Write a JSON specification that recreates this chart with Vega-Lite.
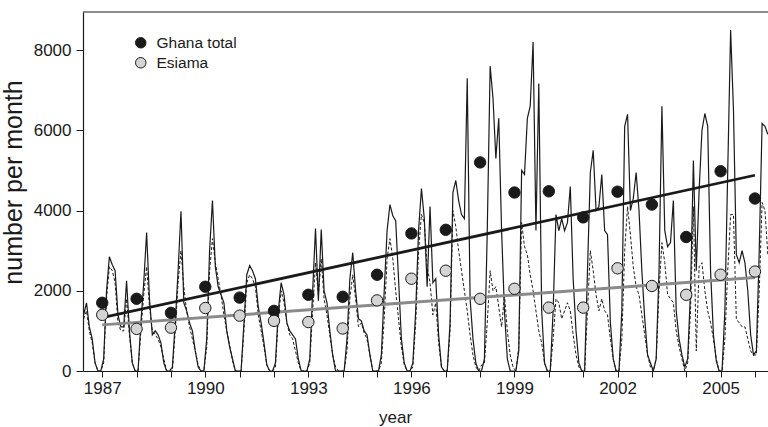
{
  "$schema": "https://vega.github.io/schema/vega-lite/v6.json",
  "width": 685,
  "height": 359,
  "autosize": {"type": "none"},
  "padding": {"left": 83, "top": 12, "right": 0, "bottom": 56},
  "background": "white",
  "config": {
    "font": "Liberation Sans",
    "view": {"stroke": null},
    "axis": {
      "grid": false,
      "domainColor": "#1a1a1a",
      "domainWidth": 1.2,
      "tickColor": "#1a1a1a",
      "tickWidth": 1,
      "tickSize": 6,
      "labelFontSize": 17,
      "labelColor": "#1a1a1a",
      "titleFontSize": 17,
      "titleFontWeight": "normal",
      "titleColor": "#1a1a1a",
      "labelPadding": 3
    },
    "axisX": {"titlePadding": 13, "titleX": 312},
    "axisY": {"titlePadding": 7, "tickSize": 7, "labelPadding": 5, "titleFontSize": 25, "titleY": 170}
  },
  "datasets": {
    "monthly": [
      {"t":1986.458,"g":1400,"e":1300},{"t":1986.542,"g":1700,"e":1500},{"t":1986.625,"g":1100,"e":1000},{"t":1986.708,"g":800,"e":700},{"t":1986.792,"g":200,"e":200},{"t":1986.875,"g":0,"e":0},{"t":1986.958,"g":0,"e":0},
      {"t":1987.042,"g":300,"e":200},{"t":1987.125,"g":2000,"e":1800},{"t":1987.208,"g":2850,"e":2600},{"t":1987.292,"g":2650,"e":2500},{"t":1987.375,"g":2500,"e":2200},{"t":1987.458,"g":1400,"e":1200},{"t":1987.542,"g":1100,"e":1000},{"t":1987.625,"g":1100,"e":1000},{"t":1987.708,"g":2250,"e":1800},{"t":1987.792,"g":1000,"e":900},{"t":1987.875,"g":200,"e":200},{"t":1987.958,"g":0,"e":0},
      {"t":1988.042,"g":0,"e":0},{"t":1988.125,"g":1200,"e":1000},{"t":1988.208,"g":2200,"e":1900},{"t":1988.292,"g":3450,"e":2600},{"t":1988.375,"g":1800,"e":1600},{"t":1988.458,"g":900,"e":1000},{"t":1988.542,"g":1000,"e":900},{"t":1988.625,"g":900,"e":800},{"t":1988.708,"g":700,"e":600},{"t":1988.792,"g":200,"e":300},{"t":1988.875,"g":0,"e":0},{"t":1988.958,"g":0,"e":0},
      {"t":1989.042,"g":100,"e":0},{"t":1989.125,"g":1200,"e":1000},{"t":1989.208,"g":2500,"e":2200},{"t":1989.292,"g":3980,"e":3000},{"t":1989.375,"g":1700,"e":2100},{"t":1989.458,"g":1500,"e":1500},{"t":1989.542,"g":1200,"e":1100},{"t":1989.625,"g":1000,"e":800},{"t":1989.708,"g":500,"e":500},{"t":1989.792,"g":100,"e":150},{"t":1989.875,"g":0,"e":0},{"t":1989.958,"g":0,"e":0},
      {"t":1990.042,"g":800,"e":600},{"t":1990.125,"g":3000,"e":2500},{"t":1990.208,"g":4250,"e":3300},{"t":1990.292,"g":2600,"e":2700},{"t":1990.375,"g":2100,"e":2300},{"t":1990.458,"g":1900,"e":1900},{"t":1990.542,"g":1700,"e":1400},{"t":1990.625,"g":1000,"e":1000},{"t":1990.708,"g":600,"e":650},{"t":1990.792,"g":300,"e":250},{"t":1990.875,"g":0,"e":0},{"t":1990.958,"g":0,"e":0},
      {"t":1991.042,"g":0,"e":0},{"t":1991.125,"g":1200,"e":1000},{"t":1991.208,"g":2400,"e":2200},{"t":1991.292,"g":2630,"e":2400},{"t":1991.375,"g":2500,"e":2300},{"t":1991.458,"g":2300,"e":2100},{"t":1991.542,"g":1600,"e":1400},{"t":1991.625,"g":1200,"e":1000},{"t":1991.708,"g":700,"e":600},{"t":1991.792,"g":150,"e":150},{"t":1991.875,"g":0,"e":0},{"t":1991.958,"g":0,"e":0},
      {"t":1992.042,"g":200,"e":100},{"t":1992.125,"g":1500,"e":1300},{"t":1992.208,"g":2200,"e":2000},{"t":1992.292,"g":1900,"e":1700},{"t":1992.375,"g":1200,"e":1200},{"t":1992.458,"g":1000,"e":900},{"t":1992.542,"g":900,"e":800},{"t":1992.625,"g":800,"e":500},{"t":1992.708,"g":300,"e":200},{"t":1992.792,"g":0,"e":0},{"t":1992.875,"g":0,"e":0},{"t":1992.958,"g":0,"e":0},
      {"t":1993.042,"g":300,"e":200},{"t":1993.125,"g":2000,"e":1500},{"t":1993.208,"g":3550,"e":2700},{"t":1993.292,"g":1750,"e":1900},{"t":1993.375,"g":3530,"e":2800},{"t":1993.458,"g":2000,"e":1800},{"t":1993.542,"g":1700,"e":1400},{"t":1993.625,"g":1000,"e":900},{"t":1993.708,"g":400,"e":400},{"t":1993.792,"g":0,"e":100},{"t":1993.875,"g":0,"e":0},{"t":1993.958,"g":0,"e":0},
      {"t":1994.042,"g":0,"e":0},{"t":1994.125,"g":800,"e":500},{"t":1994.208,"g":2300,"e":1800},{"t":1994.292,"g":2950,"e":2400},{"t":1994.375,"g":2000,"e":1800},{"t":1994.458,"g":1300,"e":1100},{"t":1994.542,"g":1250,"e":1200},{"t":1994.625,"g":1000,"e":950},{"t":1994.708,"g":900,"e":800},{"t":1994.792,"g":400,"e":400},{"t":1994.875,"g":0,"e":0},{"t":1994.958,"g":0,"e":0},
      {"t":1995.042,"g":0,"e":0},{"t":1995.125,"g":400,"e":200},{"t":1995.208,"g":2000,"e":1300},{"t":1995.292,"g":3500,"e":2800},{"t":1995.375,"g":4150,"e":3300},{"t":1995.458,"g":3870,"e":2800},{"t":1995.542,"g":3750,"e":2000},{"t":1995.625,"g":2300,"e":1300},{"t":1995.708,"g":800,"e":600},{"t":1995.792,"g":200,"e":150},{"t":1995.875,"g":0,"e":0},{"t":1995.958,"g":0,"e":0},
      {"t":1996.042,"g":200,"e":100},{"t":1996.125,"g":1500,"e":1200},{"t":1996.208,"g":3500,"e":3000},{"t":1996.292,"g":4550,"e":3900},{"t":1996.375,"g":3800,"e":3700},{"t":1996.458,"g":2100,"e":2600},{"t":1996.542,"g":4100,"e":2200},{"t":1996.625,"g":2200,"e":1400},{"t":1996.708,"g":2300,"e":1700},{"t":1996.792,"g":900,"e":700},{"t":1996.875,"g":100,"e":100},{"t":1996.958,"g":0,"e":0},
      {"t":1997.042,"g":0,"e":0},{"t":1997.125,"g":1200,"e":1000},{"t":1997.208,"g":4450,"e":4000},{"t":1997.292,"g":4750,"e":3600},{"t":1997.375,"g":4250,"e":3000},{"t":1997.458,"g":3900,"e":2500},{"t":1997.542,"g":3800,"e":2000},{"t":1997.625,"g":7300,"e":1500},{"t":1997.708,"g":1800,"e":900},{"t":1997.792,"g":800,"e":400},{"t":1997.875,"g":200,"e":100},{"t":1997.958,"g":0,"e":0},
      {"t":1998.042,"g":0,"e":150},{"t":1998.125,"g":300,"e":200},{"t":1998.208,"g":3500,"e":1200},{"t":1998.292,"g":7600,"e":2500},{"t":1998.375,"g":6800,"e":2000},{"t":1998.458,"g":5300,"e":2100},{"t":1998.542,"g":6300,"e":1600},{"t":1998.625,"g":3500,"e":1100},{"t":1998.708,"g":1500,"e":1900},{"t":1998.792,"g":300,"e":1000},{"t":1998.875,"g":0,"e":400},{"t":1998.958,"g":0,"e":100},
      {"t":1999.042,"g":0,"e":0},{"t":1999.125,"g":500,"e":600},{"t":1999.208,"g":5000,"e":3700},{"t":1999.292,"g":4900,"e":3100},{"t":1999.375,"g":6300,"e":2900},{"t":1999.458,"g":6600,"e":2400},{"t":1999.542,"g":8200,"e":2000},{"t":1999.625,"g":3500,"e":1500},{"t":1999.708,"g":7170,"e":1000},{"t":1999.792,"g":1500,"e":700},{"t":1999.875,"g":200,"e":200},{"t":1999.958,"g":0,"e":0},
      {"t":2000.042,"g":0,"e":0},{"t":2000.125,"g":1500,"e":800},{"t":2000.208,"g":3900,"e":1800},{"t":2000.292,"g":3500,"e":1700},{"t":2000.375,"g":3800,"e":1300},{"t":2000.458,"g":3500,"e":1500},{"t":2000.542,"g":3700,"e":1700},{"t":2000.625,"g":4600,"e":1500},{"t":2000.708,"g":2300,"e":900},{"t":2000.792,"g":1000,"e":400},{"t":2000.875,"g":200,"e":100},{"t":2000.958,"g":0,"e":0},
      {"t":2001.042,"g":0,"e":0},{"t":2001.125,"g":2500,"e":1500},{"t":2001.208,"g":4950,"e":3000},{"t":2001.292,"g":5500,"e":2500},{"t":2001.375,"g":4000,"e":1900},{"t":2001.458,"g":4100,"e":1500},{"t":2001.542,"g":4900,"e":1800},{"t":2001.625,"g":3500,"e":1500},{"t":2001.708,"g":3400,"e":1400},{"t":2001.792,"g":1200,"e":800},{"t":2001.875,"g":300,"e":300},{"t":2001.958,"g":0,"e":0},
      {"t":2002.042,"g":0,"e":0},{"t":2002.125,"g":1500,"e":800},{"t":2002.208,"g":6100,"e":3000},{"t":2002.292,"g":6400,"e":4100},{"t":2002.375,"g":4000,"e":3400},{"t":2002.458,"g":4300,"e":2600},{"t":2002.542,"g":4950,"e":2100},{"t":2002.625,"g":4000,"e":1900},{"t":2002.708,"g":2500,"e":1400},{"t":2002.792,"g":1300,"e":900},{"t":2002.875,"g":400,"e":400},{"t":2002.958,"g":200,"e":100},
      {"t":2003.042,"g":0,"e":0},{"t":2003.125,"g":300,"e":300},{"t":2003.208,"g":2500,"e":2000},{"t":2003.292,"g":6600,"e":3200},{"t":2003.375,"g":3500,"e":2700},{"t":2003.458,"g":3100,"e":1900},{"t":2003.542,"g":3200,"e":1800},{"t":2003.625,"g":4250,"e":1700},{"t":2003.708,"g":1500,"e":1000},{"t":2003.792,"g":800,"e":600},{"t":2003.875,"g":400,"e":300},{"t":2003.958,"g":100,"e":0},
      {"t":2004.042,"g":300,"e":200},{"t":2004.125,"g":2000,"e":1500},{"t":2004.208,"g":5250,"e":4100},{"t":2004.292,"g":2500,"e":500},{"t":2004.375,"g":4500,"e":2600},{"t":2004.458,"g":6000,"e":2700},{"t":2004.542,"g":6420,"e":2000},{"t":2004.625,"g":6100,"e":1500},{"t":2004.708,"g":2500,"e":1200},{"t":2004.792,"g":900,"e":800},{"t":2004.875,"g":250,"e":300},{"t":2004.958,"g":0,"e":0},
      {"t":2005.042,"g":0,"e":0},{"t":2005.125,"g":1500,"e":800},{"t":2005.208,"g":5000,"e":2500},{"t":2005.292,"g":8500,"e":3900},{"t":2005.375,"g":6500,"e":3900},{"t":2005.458,"g":2900,"e":1300},{"t":2005.542,"g":2700,"e":1200},{"t":2005.625,"g":3000,"e":1100},{"t":2005.708,"g":2700,"e":1100},{"t":2005.792,"g":2000,"e":800},{"t":2005.875,"g":900,"e":500},{"t":2005.958,"g":400,"e":400},
      {"t":2006.042,"g":500,"e":400},{"t":2006.125,"g":3000,"e":2000},{"t":2006.208,"g":6170,"e":4200},{"t":2006.292,"g":6100,"e":4000},{"t":2006.375,"g":5900,"e":2900}
    ],
    "annual": [
      {"t":1987,"s":"Ghana total","v":1700},{"t":1988,"s":"Ghana total","v":1800},{"t":1989,"s":"Ghana total","v":1450},{"t":1990,"s":"Ghana total","v":2100},{"t":1991,"s":"Ghana total","v":1830},{"t":1992,"s":"Ghana total","v":1500},{"t":1993,"s":"Ghana total","v":1900},{"t":1994,"s":"Ghana total","v":1850},{"t":1995,"s":"Ghana total","v":2400},{"t":1996,"s":"Ghana total","v":3430},{"t":1997,"s":"Ghana total","v":3520},{"t":1998,"s":"Ghana total","v":5200},{"t":1999,"s":"Ghana total","v":4450},{"t":2000,"s":"Ghana total","v":4480},{"t":2001,"s":"Ghana total","v":3830},{"t":2002,"s":"Ghana total","v":4470},{"t":2003,"s":"Ghana total","v":4150},{"t":2004,"s":"Ghana total","v":3340},{"t":2005,"s":"Ghana total","v":4980},{"t":2006,"s":"Ghana total","v":4300},
      {"t":1987,"s":"Esiama","v":1400},{"t":1988,"s":"Esiama","v":1050},{"t":1989,"s":"Esiama","v":1080},{"t":1990,"s":"Esiama","v":1570},{"t":1991,"s":"Esiama","v":1380},{"t":1992,"s":"Esiama","v":1250},{"t":1993,"s":"Esiama","v":1220},{"t":1994,"s":"Esiama","v":1060},{"t":1995,"s":"Esiama","v":1760},{"t":1996,"s":"Esiama","v":2300},{"t":1997,"s":"Esiama","v":2500},{"t":1998,"s":"Esiama","v":1800},{"t":1999,"s":"Esiama","v":2050},{"t":2000,"s":"Esiama","v":1580},{"t":2001,"s":"Esiama","v":1580},{"t":2002,"s":"Esiama","v":2560},{"t":2003,"s":"Esiama","v":2120},{"t":2004,"s":"Esiama","v":1900},{"t":2005,"s":"Esiama","v":2400},{"t":2006,"s":"Esiama","v":2480}
    ],
    "trendGhana": [{"t":1987,"v":1330},{"t":2006,"v":4880}],
    "trendEsiama": [{"t":1987,"v":1150},{"t":2006,"v":2330}]
  },
  "layer": [
    {
      "data": {"name": "monthly"},
      "mark": {"type": "line", "color": "#1a1a1a", "strokeWidth": 1, "strokeDash": [3, 2], "clip": true},
      "encoding": {
        "x": {"field": "t", "type": "quantitative", "scale": {"domain": [1986.44, 2006.38], "nice": false, "zero": false}, "axis": {"values": [1987,1988,1989,1990,1991,1992,1993,1994,1995,1996,1997,1998,1999,2000,2001,2002,2003,2004,2005,2006], "format": "d", "labelExpr": "datum.value % 3 == 1 ? datum.label : ''", "title": "year"}},
        "y": {"field": "e", "type": "quantitative", "scale": {"domain": [0, 8950], "nice": false}, "axis": {"values": [0,2000,4000,6000,8000], "format": "d", "title": "number per month"}}
      }
    },
    {
      "data": {"name": "monthly"},
      "mark": {"type": "line", "color": "#1a1a1a", "strokeWidth": 1.2, "clip": true},
      "encoding": {
        "x": {"field": "t", "type": "quantitative", "axis": {"values": [1987,1988,1989,1990,1991,1992,1993,1994,1995,1996,1997,1998,1999,2000,2001,2002,2003,2004,2005,2006], "format": "d", "labelExpr": "datum.value % 3 == 1 ? datum.label : ''", "title": "year"}},
        "y": {"field": "g", "type": "quantitative", "axis": {"values": [0,2000,4000,6000,8000], "format": "d", "title": "number per month"}}
      }
    },
    {
      "data": {"name": "trendEsiama"},
      "mark": {"type": "line", "color": "#8a8a8a", "strokeWidth": 3, "clip": true},
      "encoding": {
        "x": {"field": "t", "type": "quantitative", "axis": {"values": [1987,1988,1989,1990,1991,1992,1993,1994,1995,1996,1997,1998,1999,2000,2001,2002,2003,2004,2005,2006], "format": "d", "labelExpr": "datum.value % 3 == 1 ? datum.label : ''", "title": "year"}},
        "y": {"field": "v", "type": "quantitative", "axis": {"values": [0,2000,4000,6000,8000], "format": "d", "title": "number per month"}}
      }
    },
    {
      "data": {"name": "trendGhana"},
      "mark": {"type": "line", "color": "#1a1a1a", "strokeWidth": 2.8, "clip": true},
      "encoding": {
        "x": {"field": "t", "type": "quantitative", "axis": {"values": [1987,1988,1989,1990,1991,1992,1993,1994,1995,1996,1997,1998,1999,2000,2001,2002,2003,2004,2005,2006], "format": "d", "labelExpr": "datum.value % 3 == 1 ? datum.label : ''", "title": "year"}},
        "y": {"field": "v", "type": "quantitative", "axis": {"values": [0,2000,4000,6000,8000], "format": "d", "title": "number per month"}}
      }
    },
    {
      "data": {"name": "annual"},
      "mark": {"type": "point", "filled": true, "size": 130, "stroke": "#1a1a1a", "strokeWidth": 1, "opacity": 1, "clip": true},
      "encoding": {
        "x": {"field": "t", "type": "quantitative", "axis": {"values": [1987,1988,1989,1990,1991,1992,1993,1994,1995,1996,1997,1998,1999,2000,2001,2002,2003,2004,2005,2006], "format": "d", "labelExpr": "datum.value % 3 == 1 ? datum.label : ''", "title": "year"}},
        "y": {"field": "v", "type": "quantitative", "axis": {"values": [0,2000,4000,6000,8000], "format": "d", "title": "number per month"}},
        "color": {"field": "s", "type": "nominal", "scale": {"domain": ["Ghana total", "Esiama"], "range": ["#1a1a1a", "#d4d4d4"]}, "legend": {"orient": "none", "legendX": 50, "legendY": 23, "title": null, "labelFontSize": 15.5, "labelColor": "#1a1a1a", "labelOffset": 8, "symbolType": "circle", "symbolSize": 110, "symbolStrokeColor": "#1a1a1a", "symbolStrokeWidth": 1, "symbolOpacity": 1, "rowPadding": 3, "padding": 0}}
      }
    },
    {
      "data": {"values": [{}]},
      "mark": {"type": "rule", "color": "#1a1a1a", "strokeWidth": 1.2},
      "encoding": {"y": {"datum": 8950, "type": "quantitative"}}
    }
  ]
}
